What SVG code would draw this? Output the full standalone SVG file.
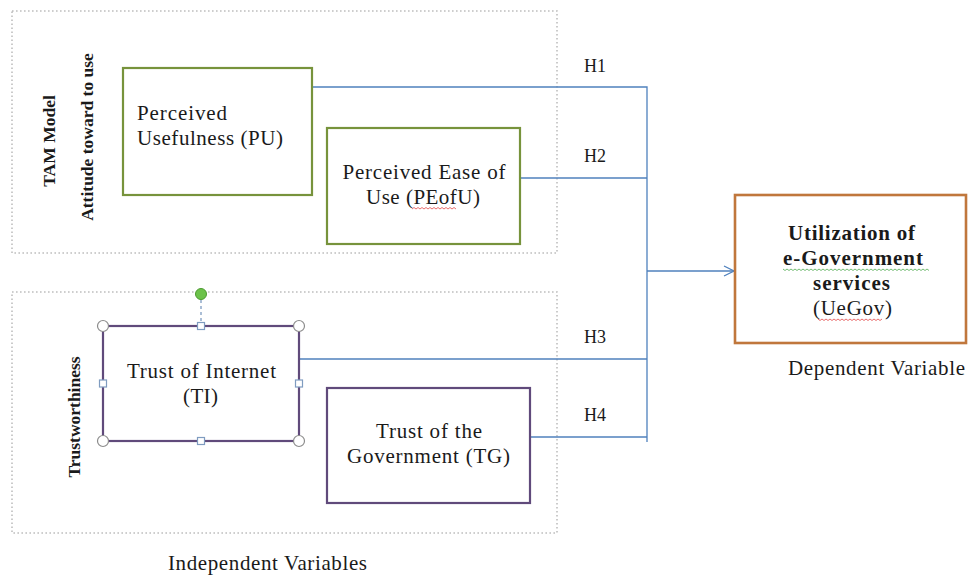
<svg xmlns="http://www.w3.org/2000/svg" width="968" height="576" viewBox="0 0 968 576">
<defs>
<style>
.grp{fill:none;stroke:#BFBFBF;stroke-width:1.6;stroke-dasharray:1.6 2.4}
.green{fill:#fff;stroke:#77933C;stroke-width:2.2}
.purple{fill:#fff;stroke:#604A7B;stroke-width:2.2}
.brown{fill:#fff;stroke:#C0773C;stroke-width:2.6}
.conn{fill:none;stroke:#4F81BD;stroke-width:1.3}
.t{font-family:"Liberation Serif","Times New Roman",serif;font-size:21px;fill:#1a1a1a}
.b{font-weight:bold}
.v{font-family:"Liberation Serif","Times New Roman",serif;font-size:17.5px;font-weight:bold;fill:#1a1a1a;text-anchor:middle}
.h{font-family:"Liberation Serif","Times New Roman",serif;font-size:18px;fill:#1a1a1a;text-anchor:middle}
.c{text-anchor:middle}
.hc{fill:#fff;stroke:#8C8C8C;stroke-width:1.2}
.hs{fill:#fff;stroke:#7F9CC0;stroke-width:1.2}
.wr{fill:none;stroke:#E03030;stroke-width:0.7}
.wg{fill:none;stroke:#3AA03A;stroke-width:0.7}
</style>
<marker id="arr" viewBox="0 0 12 12" refX="11" refY="6" markerWidth="12" markerHeight="12" markerUnits="userSpaceOnUse" orient="auto">
<path d="M1 1 L11 6 L1 11" fill="none" stroke="#4F81BD" stroke-width="1.3"/>
</marker>
</defs>
<rect width="968" height="576" fill="#fff"/>

<g id="group-tam">
<rect class="grp" x="12" y="11" width="545" height="242"/>
<text class="v" transform="translate(55,141) rotate(-90)">TAM Model</text>
<text class="v" transform="translate(93,137) rotate(-90)">Attitude toward to use</text>
</g>

<g id="group-trust">
<rect class="grp" x="12" y="292" width="545" height="241"/>
<text class="v" transform="translate(80,417) rotate(-90)">Trustworthiness</text>
</g>

<g id="connectors">
<polyline class="conn" points="312,87 647,87 647,442"/>
<line class="conn" x1="520" y1="178" x2="647" y2="178"/>
<line class="conn" x1="299" y1="359" x2="647" y2="359"/>
<line class="conn" x1="530" y1="437" x2="647" y2="437"/>
<line class="conn" x1="647" y1="271" x2="734" y2="271" marker-end="url(#arr)"/>
<text class="h" x="595" y="72">H1</text>
<text class="h" x="595" y="162">H2</text>
<text class="h" x="595" y="343">H3</text>
<text class="h" x="595" y="421">H4</text>
</g>

<g id="node-pu">
<rect class="green" x="123" y="68" width="189" height="127"/>
<text class="t" x="137" y="120" textLength="90" lengthAdjust="spacing">Perceived</text>
<text class="t" x="137" y="145" textLength="146" lengthAdjust="spacing">Usefulness (PU)</text>
</g>

<g id="node-peofu">
<rect class="green" x="327" y="128" width="193" height="116"/>
<text class="t c" x="424" y="179" textLength="163" lengthAdjust="spacing">Perceived Ease of</text>
<text class="t c" x="423" y="204" textLength="114" lengthAdjust="spacing">Use (PEofU)</text>
<path class="wr" d="M412 209 l2 -1.5 l2 1.5 l2 -1.5 l2 1.5 l2 -1.5 l2 1.5 l2 -1.5 l2 1.5 l2 -1.5 l2 1.5 l2 -1.5 l2 1.5 l2 -1.5 l2 1.5 l2 -1.5 l2 1.5 l2 -1.5 l2 1.5 l2 -1.5 l2 1.5 l2 -1.5 l2 1.5"/>
</g>

<g id="node-ti">
<rect class="purple" x="103" y="326" width="196" height="115"/>
<line x1="201" y1="300" x2="201" y2="322" stroke="#7F9CC0" stroke-width="1.3" stroke-dasharray="3 3"/>
<circle cx="201" cy="294" r="5.5" fill="#6CC24A" stroke="#4C9A30" stroke-width="1"/>
<circle class="hc" cx="103" cy="326" r="5.5"/>
<circle class="hc" cx="299" cy="326" r="5.5"/>
<circle class="hc" cx="103" cy="441" r="5.5"/>
<circle class="hc" cx="299" cy="441" r="5.5"/>
<rect class="hs" x="197.5" y="322.5" width="7" height="7"/>
<rect class="hs" x="197.5" y="437.5" width="7" height="7"/>
<rect class="hs" x="99.5" y="380" width="7" height="7"/>
<rect class="hs" x="295.5" y="380" width="7" height="7"/>
<text class="t c" x="201.5" y="378" textLength="149" lengthAdjust="spacing">Trust of Internet</text>
<text class="t c" x="200.5" y="403" textLength="35" lengthAdjust="spacing">(TI)</text>
</g>

<g id="node-tg">
<rect class="purple" x="327" y="388" width="203" height="115"/>
<text class="t c" x="429" y="438" textLength="106" lengthAdjust="spacing">Trust of the</text>
<text class="t c" x="428.5" y="463" textLength="163" lengthAdjust="spacing">Government (TG)</text>
</g>

<g id="node-uegov">
<rect class="brown" x="735" y="195" width="231" height="148"/>
<text class="t b c" x="851.5" y="240" textLength="127" lengthAdjust="spacing">Utilization of</text>
<text class="t b c" x="853" y="265" textLength="140" lengthAdjust="spacing">e-Government</text>
<path class="wg" d="M783 269 l2 1.5 l2 -1.5 l2 1.5 l2 -1.5 l2 1.5 l2 -1.5 l2 1.5 l2 -1.5 l2 1.5 l2 -1.5 l2 1.5 l2 -1.5 l2 1.5 l2 -1.5 l2 1.5 l2 -1.5 l2 1.5 l2 -1.5 l2 1.5 l2 -1.5 l2 1.5 l2 -1.5 l2 1.5 l2 -1.5 l2 1.5 l2 -1.5 l2 1.5 l2 -1.5 l2 1.5 l2 -1.5 l2 1.5 l2 -1.5 l2 1.5 l2 -1.5 l2 1.5 l2 -1.5 l2 1.5 l2 -1.5 l2 1.5 l2 -1.5 l2 1.5 l2 -1.5 l2 1.5 l2 -1.5 l2 1.5 l2 -1.5 l2 1.5 l2 -1.5 l2 1.5 l2 -1.5 l2 1.5 l2 -1.5 l2 1.5 l2 -1.5 l2 1.5 l2 -1.5 l2 1.5 l2 -1.5 l2 1.5 l2 -1.5 l2 1.5 l2 -1.5 l2 1.5 l2 -1.5 l2 1.5 l2 -1.5 l2 1.5 l2 -1.5 l2 1.5 l2 -1.5 l2 1.5 l2 -1.5 l2 1.5"/>
<text class="t b c" x="851.5" y="290" textLength="77" lengthAdjust="spacing">services</text>
<text class="t c" x="852.5" y="315" textLength="79" lengthAdjust="spacing">(UeGov)</text>
<path class="wr" d="M818 319 l2 1.5 l2 -1.5 l2 1.5 l2 -1.5 l2 1.5 l2 -1.5 l2 1.5 l2 -1.5 l2 1.5 l2 -1.5 l2 1.5 l2 -1.5 l2 1.5 l2 -1.5 l2 1.5 l2 -1.5 l2 1.5 l2 -1.5 l2 1.5 l2 -1.5 l2 1.5 l2 -1.5 l2 1.5 l2 -1.5 l2 1.5 l2 -1.5 l2 1.5 l2 -1.5 l2 1.5 l2 -1.5 l2 1.5 l2 -1.5"/>
</g>

<g id="labels">
<text class="t c" x="876.5" y="375" textLength="177" lengthAdjust="spacing">Dependent Variable</text>
<text class="t c" x="267.5" y="570" textLength="199" lengthAdjust="spacing">Independent Variables</text>
</g>
</svg>
